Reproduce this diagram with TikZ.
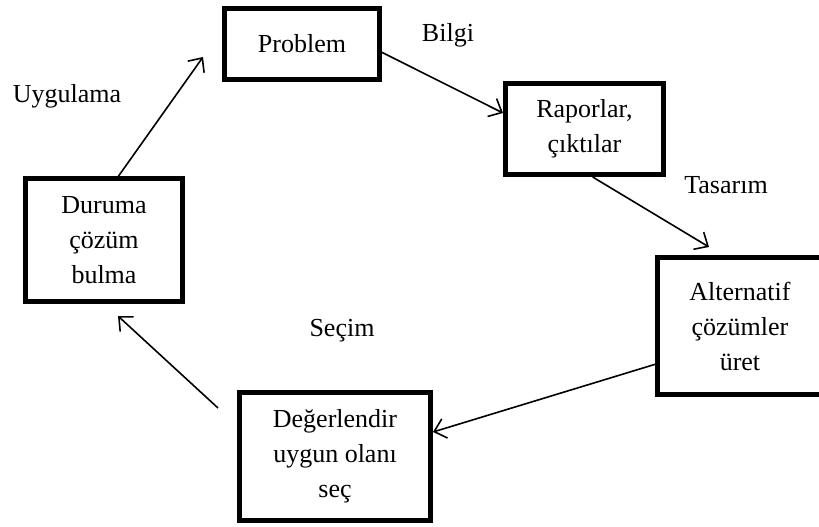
\documentclass[tikz,border=0pt]{standalone}
\usepackage{fontspec}
\setmainfont{Liberation Serif}
\usetikzlibrary{arrows.meta,calc}

\tikzset{
  stage/.style={draw, line width=5pt, rectangle, align=center, inner sep=0pt,
                font=\fontsize{26}{35}\selectfont},
  flow/.style={line width=1.6pt, -{Straight Barb[length=11pt,width=20pt,line width=1.6pt]}},
  tag/.style={anchor=base, inner sep=0pt, font=\fontsize{26}{35}\selectfont}
}

\begin{document}
\begin{tikzpicture}[x=1pt,y=-1pt]
  \useasboundingbox (0,0) rectangle (819,527);
  \fill[white] (0,0) rectangle (819,527);
  \clip (0,0) rectangle (819,527);

  % stages of the cycle
  \node[stage, minimum width=155pt, minimum height=71pt]  (prob) at (302,44)    {Problem};
  \node[stage, minimum width=158pt, minimum height=91pt]  (rap)  at (584.5,129) {Raporlar,\\çıktılar};
  \node[stage, minimum width=165pt, minimum height=137pt] (alt)  at (740,326)   {Alternatif\\çözümler\\üret};
  \node[stage, minimum width=191pt, minimum height=128pt] (deg)  at (335,456.5) {Değerlendir\\uygun olanı\\seç};
  \node[stage, minimum width=157pt, minimum height=123pt] (dur)  at (104,240)   {Duruma\\çözüm\\bulma};

  % arrow tips and free ends
  \coordinate (tipProb) at (203,57);
  \coordinate (tipRap)  at (503,113);
  \coordinate (tipAlt)  at (709,247);
  \coordinate (tipDeg)  at (433,432);
  \coordinate (tailDur) at (218,408);
  \coordinate (tipDur)  at (118,316);

  % connectors
  \draw[flow] ($(dur.north west)!0.59!(dur.north east)$) -- (tipProb);
  \draw[flow] ($(prob.north east)!0.61!(prob.south east)$) -- (tipRap);
  \draw[flow] ($(rap.south west)!0.55!(rap.south east)$) -- (tipAlt);
  \draw[flow] ($(alt.north west)!0.77!(alt.south west)$) -- (tipDeg);
  \draw[flow] (tailDur) -- (tipDur);

  % phase labels
  \node[tag] (lUyg) at (67,102)  {Uygulama};
  \node[tag] (lBil) at (448,42)  {Bilgi};
  \node[tag] (lTas) at (726,193) {Tasarım};
  \node[tag] (lSec) at (342,336) {Seçim};
\end{tikzpicture}
\end{document}
